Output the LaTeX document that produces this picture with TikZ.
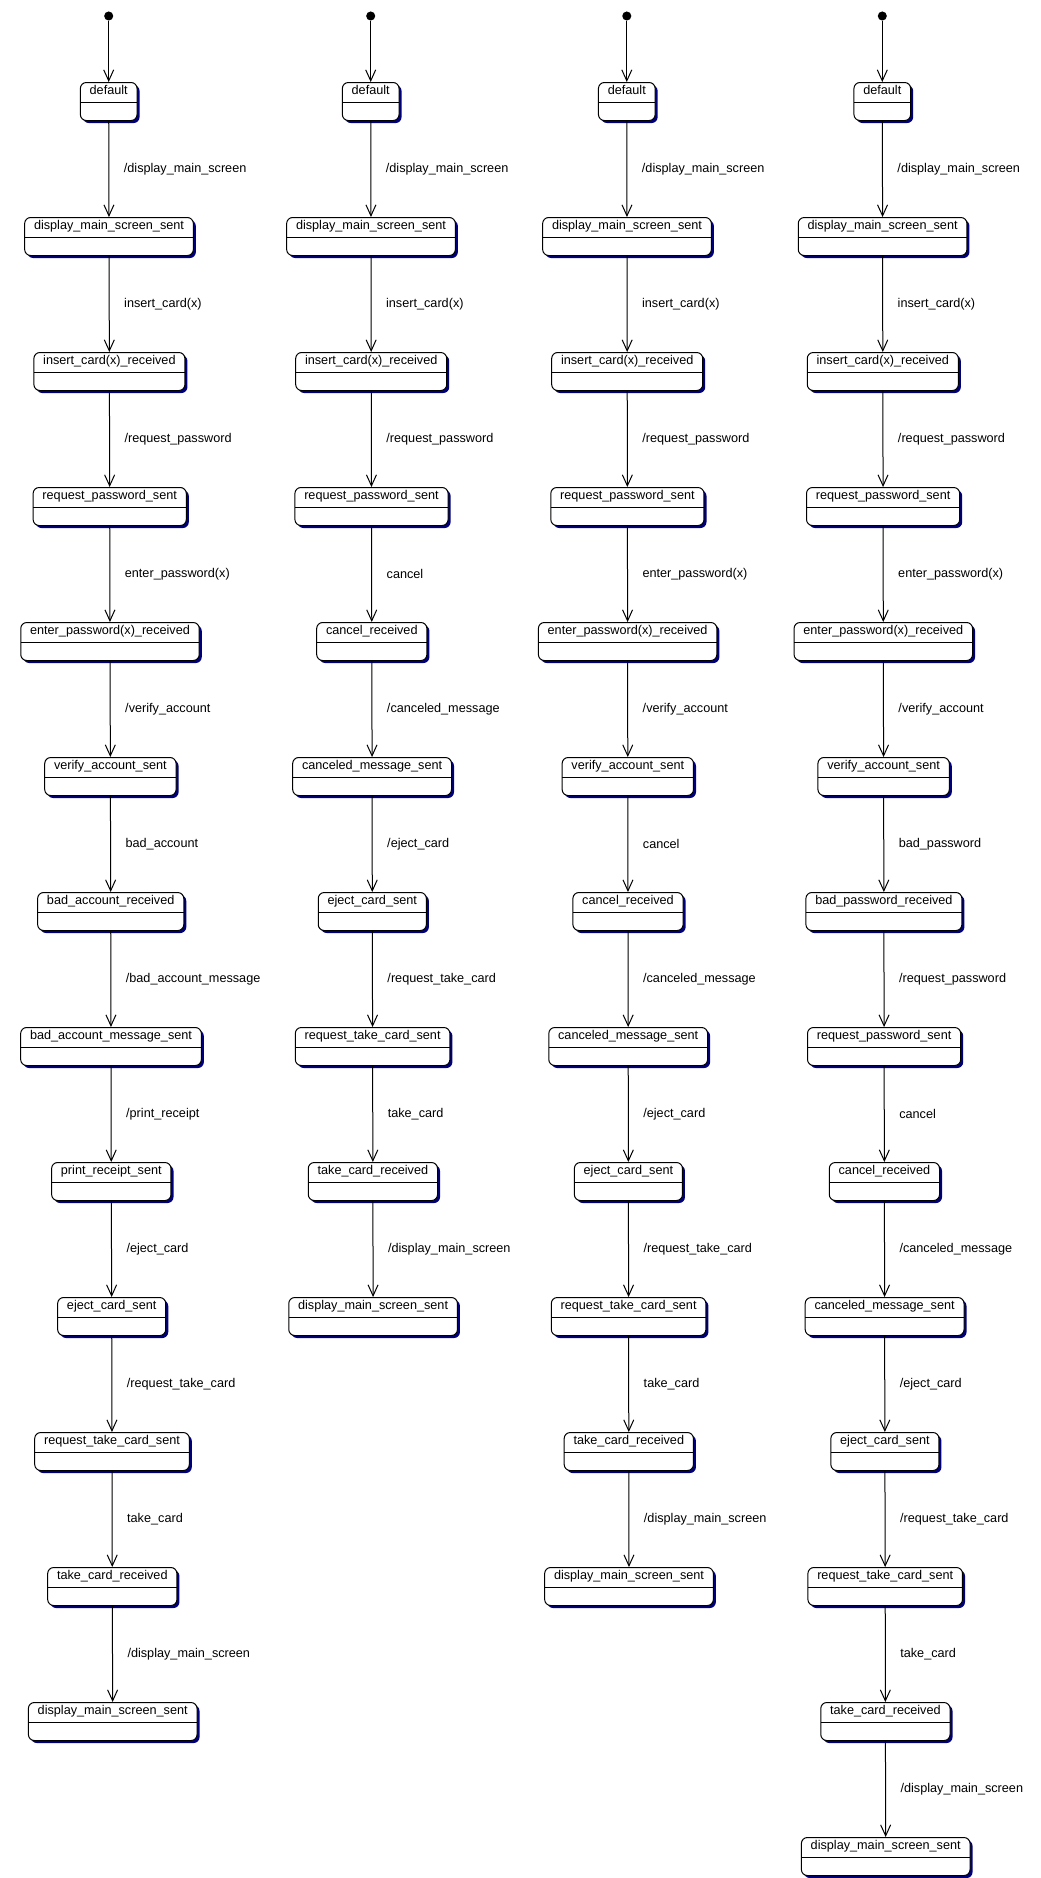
\documentclass[tikz,border=0pt]{standalone}
\usepackage{fontspec}
\setmainfont{Liberation Sans}
\usetikzlibrary{arrows.meta}
\usetikzlibrary{shadows}
\definecolor{shadownavy}{HTML}{000078}

\begin{document}
\begin{tikzpicture}[x=0.75pt, y=-0.75pt, line width=0.75pt,
  state/.style={draw, fill=white, rounded corners=4.5pt, anchor=north,
    inner xsep=7pt, inner ysep=0pt, text height=9.2pt, text depth=19.3pt,
    font=\fontsize{9.5}{11}\selectfont,
    drop shadow={shadow xshift=1.9pt, shadow yshift=-1.9pt, fill=shadownavy, opacity=1},
    path picture={\draw ([yshift=13.5pt]path picture bounding box.south west) -- ([yshift=13.5pt]path picture bounding box.south east);}},
  start/.style={circle, fill=black, inner sep=0pt, minimum size=6.8pt},
  trans/.style={-{Straight Barb[length=8.25pt, width=7.5pt]}},
  lbl/.style={midway, anchor=west, inner sep=0pt, xshift=10.9pt, font=\fontsize{9.5}{11}\selectfont}]
\useasboundingbox (0,0) rectangle (1040,1878);

\node[start] (iA) at (108.7,16) {};
\node[state] (A0) at (108.7,82) {default};
\node[state] (A1) at (109.0,217) {display\_main\_screen\_sent};
\node[state] (A2) at (109.4,352) {insert\_card(x)\_received};
\node[state] (A3) at (109.7,487) {request\_password\_sent};
\node[state] (A4) at (110.0,622) {enter\_password(x)\_received};
\node[state] (A5) at (110.4,757) {verify\_account\_sent};
\node[state] (A6) at (110.7,892) {bad\_account\_received};
\node[state] (A7) at (111.0,1027) {bad\_account\_message\_sent};
\node[state] (A8) at (111.3,1162) {print\_receipt\_sent};
\node[state] (A9) at (111.7,1297) {eject\_card\_sent};
\node[state] (A10) at (112.0,1432) {request\_take\_card\_sent};
\node[state] (A11) at (112.3,1567) {take\_card\_received};
\node[state] (A12) at (112.7,1702) {display\_main\_screen\_sent};
\draw[trans] (iA) -- (A0);
\draw[trans] (A0) -- (A1) node[lbl] {/display\_main\_screen};
\draw[trans] (A1) -- (A2) node[lbl] {insert\_card(x)};
\draw[trans] (A2) -- (A3) node[lbl] {/request\_password};
\draw[trans] (A3) -- (A4) node[lbl] {enter\_password(x)};
\draw[trans] (A4) -- (A5) node[lbl] {/verify\_account};
\draw[trans] (A5) -- (A6) node[lbl] {bad\_account};
\draw[trans] (A6) -- (A7) node[lbl] {/bad\_account\_message};
\draw[trans] (A7) -- (A8) node[lbl] {/print\_receipt};
\draw[trans] (A8) -- (A9) node[lbl] {/eject\_card};
\draw[trans] (A9) -- (A10) node[lbl] {/request\_take\_card};
\draw[trans] (A10) -- (A11) node[lbl] {take\_card};
\draw[trans] (A11) -- (A12) node[lbl] {/display\_main\_screen};

\node[start] (iB) at (370.7,16) {};
\node[state] (B0) at (370.7,82) {default};
\node[state] (B1) at (371.0,217) {display\_main\_screen\_sent};
\node[state] (B2) at (371.2,352) {insert\_card(x)\_received};
\node[state] (B3) at (371.5,487) {request\_password\_sent};
\node[state] (B4) at (371.8,622) {cancel\_received};
\node[state] (B5) at (372.1,757) {canceled\_message\_sent};
\node[state] (B6) at (372.3,892) {eject\_card\_sent};
\node[state] (B7) at (372.6,1027) {request\_take\_card\_sent};
\node[state] (B8) at (372.9,1162) {take\_card\_received};
\node[state] (B9) at (373.1,1297) {display\_main\_screen\_sent};
\draw[trans] (iB) -- (B0);
\draw[trans] (B0) -- (B1) node[lbl] {/display\_main\_screen};
\draw[trans] (B1) -- (B2) node[lbl] {insert\_card(x)};
\draw[trans] (B2) -- (B3) node[lbl] {/request\_password};
\draw[trans] (B3) -- (B4) node[lbl] {cancel};
\draw[trans] (B4) -- (B5) node[lbl] {/canceled\_message};
\draw[trans] (B5) -- (B6) node[lbl] {/eject\_card};
\draw[trans] (B6) -- (B7) node[lbl] {/request\_take\_card};
\draw[trans] (B7) -- (B8) node[lbl] {take\_card};
\draw[trans] (B8) -- (B9) node[lbl] {/display\_main\_screen};

\node[start] (iC) at (626.8,16) {};
\node[state] (C0) at (626.8,82) {default};
\node[state] (C1) at (627.0,217) {display\_main\_screen\_sent};
\node[state] (C2) at (627.2,352) {insert\_card(x)\_received};
\node[state] (C3) at (627.4,487) {request\_password\_sent};
\node[state] (C4) at (627.6,622) {enter\_password(x)\_received};
\node[state] (C5) at (627.8,757) {verify\_account\_sent};
\node[state] (C6) at (628.0,892) {cancel\_received};
\node[state] (C7) at (628.2,1027) {canceled\_message\_sent};
\node[state] (C8) at (628.4,1162) {eject\_card\_sent};
\node[state] (C9) at (628.6,1297) {request\_take\_card\_sent};
\node[state] (C10) at (628.8,1432) {take\_card\_received};
\node[state] (C11) at (629.0,1567) {display\_main\_screen\_sent};
\draw[trans] (iC) -- (C0);
\draw[trans] (C0) -- (C1) node[lbl] {/display\_main\_screen};
\draw[trans] (C1) -- (C2) node[lbl] {insert\_card(x)};
\draw[trans] (C2) -- (C3) node[lbl] {/request\_password};
\draw[trans] (C3) -- (C4) node[lbl] {enter\_password(x)};
\draw[trans] (C4) -- (C5) node[lbl] {/verify\_account};
\draw[trans] (C5) -- (C6) node[lbl] {cancel};
\draw[trans] (C6) -- (C7) node[lbl] {/canceled\_message};
\draw[trans] (C7) -- (C8) node[lbl] {/eject\_card};
\draw[trans] (C8) -- (C9) node[lbl] {/request\_take\_card};
\draw[trans] (C9) -- (C10) node[lbl] {take\_card};
\draw[trans] (C10) -- (C11) node[lbl] {/display\_main\_screen};

\node[start] (iD) at (882.3,16) {};
\node[state] (D0) at (882.3,82) {default};
\node[state] (D1) at (882.6,217) {display\_main\_screen\_sent};
\node[state] (D2) at (882.8,352) {insert\_card(x)\_received};
\node[state] (D3) at (883.1,487) {request\_password\_sent};
\node[state] (D4) at (883.3,622) {enter\_password(x)\_received};
\node[state] (D5) at (883.6,757) {verify\_account\_sent};
\node[state] (D6) at (883.9,892) {bad\_password\_received};
\node[state] (D7) at (884.1,1027) {request\_password\_sent};
\node[state] (D8) at (884.4,1162) {cancel\_received};
\node[state] (D9) at (884.6,1297) {canceled\_message\_sent};
\node[state] (D10) at (884.9,1432) {eject\_card\_sent};
\node[state] (D11) at (885.2,1567) {request\_take\_card\_sent};
\node[state] (D12) at (885.4,1702) {take\_card\_received};
\node[state] (D13) at (885.7,1837) {display\_main\_screen\_sent};
\draw[trans] (iD) -- (D0);
\draw[trans] (D0) -- (D1) node[lbl] {/display\_main\_screen};
\draw[trans] (D1) -- (D2) node[lbl] {insert\_card(x)};
\draw[trans] (D2) -- (D3) node[lbl] {/request\_password};
\draw[trans] (D3) -- (D4) node[lbl] {enter\_password(x)};
\draw[trans] (D4) -- (D5) node[lbl] {/verify\_account};
\draw[trans] (D5) -- (D6) node[lbl] {bad\_password};
\draw[trans] (D6) -- (D7) node[lbl] {/request\_password};
\draw[trans] (D7) -- (D8) node[lbl] {cancel};
\draw[trans] (D8) -- (D9) node[lbl] {/canceled\_message};
\draw[trans] (D9) -- (D10) node[lbl] {/eject\_card};
\draw[trans] (D10) -- (D11) node[lbl] {/request\_take\_card};
\draw[trans] (D11) -- (D12) node[lbl] {take\_card};
\draw[trans] (D12) -- (D13) node[lbl] {/display\_main\_screen};
\end{tikzpicture}
\end{document}
